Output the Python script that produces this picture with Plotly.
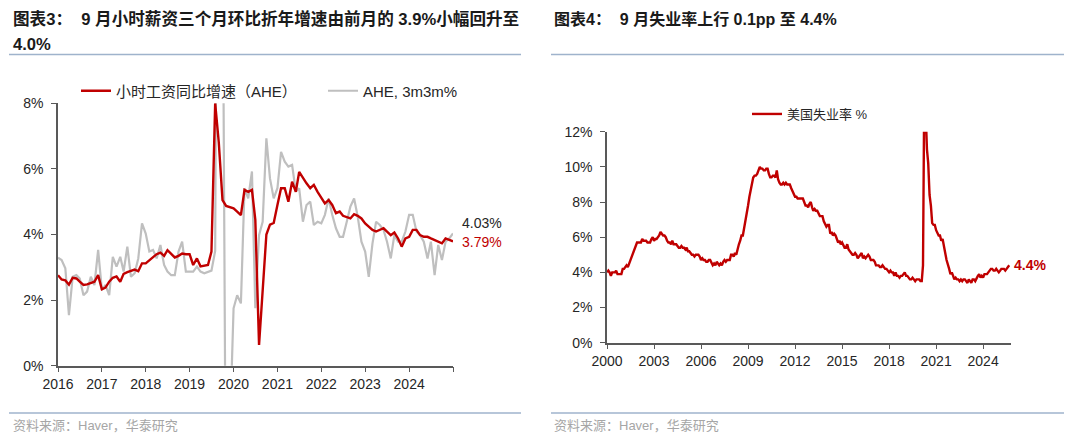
import plotly.graph_objects as go
import pandas as pd

# ---------------- data: left chart (AHE) ----------------
ahe_yoy = [
    2.76, 2.63, 2.60, 2.47, 2.68, 2.66, 2.56, 2.46, 2.48, 2.51,
    2.56, 2.76, 2.33, 2.38, 2.56, 2.68, 2.72, 2.56, 2.80, 2.85,
    2.88, 2.93, 2.88, 3.12, 3.12, 3.22, 3.30, 3.40, 3.45, 3.35,
    3.52, 3.40, 3.30, 3.35, 3.42, 3.40, 3.40, 3.07, 3.27, 3.03,
    3.05, 3.07, 3.48, 8.00, 6.80, 5.05, 4.87, 4.83, 4.80, 4.70,
    4.59, 5.36, 5.30, 5.36, 4.45, 0.63, 2.30, 4.00, 4.30, 4.35,
    4.90, 5.41, 5.41, 5.00, 5.61, 5.30, 5.91, 5.71, 5.56, 5.41,
    5.51, 5.30, 5.10, 4.95, 5.05, 4.90, 4.65, 4.70, 4.57, 4.54,
    4.49, 4.62, 4.57, 4.49, 4.34, 4.24, 4.14, 4.09, 4.14, 4.19,
    4.09, 3.98, 4.06, 3.88, 3.63, 3.88, 3.93, 4.14, 4.14, 3.98,
    3.93, 3.93, 3.88, 3.83, 3.78, 3.73, 3.88, 3.83, 3.79,
]
ahe_3m3m = [
    3.29, 3.22, 2.97, 1.54, 2.71, 2.76, 2.66, 2.15, 2.26, 2.71,
    2.46, 3.53, 2.31, 2.46, 2.15, 3.32, 3.02, 3.32, 2.87, 3.63,
    2.71, 2.82, 3.27, 4.34, 4.03, 3.48, 3.53, 3.27, 3.68, 3.07,
    2.87, 2.76, 2.76, 3.48, 3.78, 2.87, 2.87, 2.87, 3.02, 2.87,
    2.82, 2.85, 2.90, 3.50, 28.0, 14.0, -6.0, -2.0, 1.75, 2.15,
    1.90, 5.41, 5.10, 5.92, 1.75, 3.98, 4.39, 6.93, 5.71, 5.10,
    5.41, 6.52, 6.22, 6.07, 6.12, 5.31, 5.41, 4.39, 4.90, 5.00,
    4.29, 4.39, 4.34, 4.60, 5.10, 4.60, 4.19, 3.93, 3.93, 4.39,
    4.85, 5.10, 4.55, 3.78, 3.48, 2.71, 3.73, 4.39, 4.29, 4.14,
    3.78, 3.27, 3.98, 3.78, 3.78, 4.09, 4.60, 4.60, 4.09, 3.98,
    3.78, 3.27, 3.78, 2.76, 3.68, 3.22, 3.78, 3.88, 4.03,
]
ahe_dates = pd.date_range("2016-09-01", periods=len(ahe_yoy), freq="MS")
ahe_tick_labels = ["2016", "2017", "2018", "2019", "2020", "2021", "2022", "2023", "2024", ""]
ahe_tick_dates = pd.date_range("2016-09-01", periods=len(ahe_tick_labels), freq="12MS")
ahe_y_ticks = [0, 2, 4, 6, 8]

# ---------------- data: right chart (US unemployment rate) ----------------
unrate = [
    4.0, 4.1, 4.0, 3.8, 4.0, 4.0, 4.0, 4.1, 3.9, 3.9, 3.9, 3.9,   # 2000
    4.2, 4.2, 4.3, 4.4, 4.3, 4.5, 4.6, 4.9, 5.0, 5.3, 5.5, 5.7,   # 2001
    5.7, 5.7, 5.7, 5.9, 5.8, 5.8, 5.8, 5.7, 5.7, 5.7, 5.9, 6.0,   # 2002
    5.8, 5.9, 5.9, 6.0, 6.1, 6.3, 6.2, 6.1, 6.1, 6.0, 5.8, 5.7,   # 2003
    5.7, 5.6, 5.8, 5.6, 5.6, 5.6, 5.5, 5.4, 5.4, 5.5, 5.4, 5.4,   # 2004
    5.3, 5.4, 5.2, 5.2, 5.1, 5.0, 5.0, 4.9, 5.0, 5.0, 5.0, 4.9,   # 2005
    4.7, 4.8, 4.7, 4.7, 4.6, 4.6, 4.7, 4.7, 4.5, 4.4, 4.5, 4.4,   # 2006
    4.6, 4.5, 4.4, 4.5, 4.4, 4.6, 4.7, 4.6, 4.7, 4.7, 4.7, 5.0,   # 2007
    5.0, 4.9, 5.1, 5.0, 5.4, 5.6, 5.8, 6.1, 6.1, 6.5, 6.8, 7.3,   # 2008
    7.8, 8.3, 8.7, 9.0, 9.4, 9.5, 9.5, 9.6, 9.8, 10.0, 9.9, 9.9,  # 2009
    9.8, 9.8, 9.9, 9.9, 9.6, 9.4, 9.4, 9.5, 9.5, 9.4, 9.8, 9.3,   # 2010
    9.1, 9.0, 9.0, 9.1, 9.0, 9.1, 9.0, 9.0, 9.0, 8.8, 8.6, 8.5,   # 2011
    8.3, 8.3, 8.2, 8.2, 8.2, 8.2, 8.2, 8.0, 7.8, 7.8, 7.7, 7.9,   # 2012
    8.0, 7.7, 7.5, 7.6, 7.5, 7.5, 7.3, 7.2, 7.2, 7.2, 6.9, 6.7,   # 2013
    6.6, 6.7, 6.7, 6.2, 6.3, 6.1, 6.2, 6.1, 5.9, 5.7, 5.8, 5.6,   # 2014
    5.7, 5.5, 5.4, 5.4, 5.6, 5.3, 5.2, 5.1, 5.0, 5.0, 5.1, 5.0,   # 2015
    4.8, 4.9, 5.0, 5.1, 4.8, 4.9, 4.8, 4.9, 5.0, 4.9, 4.7, 4.7,   # 2016
    4.7, 4.6, 4.4, 4.4, 4.4, 4.3, 4.3, 4.4, 4.3, 4.2, 4.2, 4.1,   # 2017
    4.0, 4.1, 4.0, 4.0, 3.8, 4.0, 3.8, 3.8, 3.7, 3.8, 3.8, 3.9,   # 2018
    4.0, 3.8, 3.8, 3.7, 3.6, 3.6, 3.7, 3.6, 3.5, 3.6, 3.6, 3.6,   # 2019
    3.5, 3.5, 4.4, 14.8, 13.2, 11.0, 10.2, 8.4, 7.8, 6.8, 6.7, 6.7,  # 2020
    6.4, 6.2, 6.1, 6.1, 5.8, 5.9, 5.4, 5.1, 4.7, 4.5, 4.2, 3.9,   # 2021
    4.0, 3.8, 3.6, 3.7, 3.6, 3.6, 3.5, 3.6, 3.5, 3.6, 3.6, 3.5,   # 2022
    3.4, 3.6, 3.5, 3.4, 3.6, 3.6, 3.5, 3.7, 3.8, 3.9, 3.7, 3.8,   # 2023
    3.7, 3.9, 3.9, 3.9, 4.0, 4.1, 4.2, 4.2, 4.1, 4.1, 4.2, 4.1,   # 2024
    4.0, 4.1, 4.2, 4.2, 4.2, 4.1, 4.2, 4.3, 4.4,                  # 2025
]
unrate_dates = pd.date_range("2000-01-01", periods=len(unrate), freq="MS")
unrate_tick_labels = ["2000", "2003", "2006", "2009", "2012", "2015", "2018", "2021", "2024"]
unrate_tick_dates = pd.to_datetime([f"{y}-01-01" for y in unrate_tick_labels])
unrate_y_ticks = [0, 2, 4, 6, 8, 10, 12]

# ---------------- styling ----------------
RED = "#c00000"
GRAY = "#bfbfbf"
AXIS = "#595959"
TXT = "#262626"
SEP = "#9fb3cc"
LAT = "Liberation Sans, Arial, Noto Sans CJK SC, sans-serif"
CJK = "Liberation Sans, Noto Sans CJK SC, sans-serif"
# the page body has an 8px margin, so the figure is offset by 8px
OFF = 8
W, H = 1080 - OFF, 440 - OFF


def px_x(x):
    return (x - OFF) / W


def px_y(y):
    return 1 - (y - OFF) / H


fig = go.Figure()

fig.add_trace(go.Scatter(
    x=ahe_dates, y=ahe_3m3m, mode="lines", name="AHE, 3m3m%",
    line=dict(color=GRAY, width=2.2), xaxis="x", yaxis="y", legend="legend",
    legendrank=2,
))
fig.add_trace(go.Scatter(
    x=ahe_dates, y=ahe_yoy, mode="lines", name="小时工资同比增速（AHE）",
    line=dict(color=RED, width=2.4), xaxis="x", yaxis="y", legend="legend",
    legendrank=1,
))
fig.add_trace(go.Scatter(
    x=unrate_dates, y=unrate, mode="lines", name="美国失业率 %",
    line=dict(color=RED, width=2.4), xaxis="x2", yaxis="y2", legend="legend2",
))

axis_common = dict(
    showgrid=False, zeroline=False, showline=True, linecolor=AXIS, linewidth=1.5,
    ticks="outside", tickcolor=AXIS, tickwidth=1.3, ticklen=5, automargin=False,
    tickfont=dict(family=LAT, size=14, color=TXT),
)

fig.update_layout(
    width=W, height=H,
    margin=dict(l=0, r=0, t=0, b=0, autoexpand=False),
    paper_bgcolor="white", plot_bgcolor="white",
    showlegend=True,
    xaxis=dict(
        domain=[px_x(58), px_x(453)],
        range=[ahe_dates[0], ahe_dates[-1]],
        tickmode="array", tickvals=ahe_tick_dates, ticktext=ahe_tick_labels,
        anchor="y", **axis_common,
    ),
    yaxis=dict(
        domain=[px_y(365.7), px_y(103.3)],
        range=[0, 8], tickmode="array", tickvals=ahe_y_ticks,
        ticktext=[f"{v}%" for v in ahe_y_ticks], ticklabelstandoff=5,
        anchor="x", **axis_common,
    ),
    xaxis2=dict(
        domain=[px_x(607), px_x(1011)],
        range=[unrate_dates[0], pd.Timestamp("2025-10-12")],
        tickmode="array", tickvals=unrate_tick_dates, ticktext=unrate_tick_labels,
        anchor="y2", **axis_common,
    ),
    yaxis2=dict(
        domain=[px_y(342.7), px_y(131.7)],
        range=[0, 12], tickmode="array", tickvals=unrate_y_ticks,
        ticktext=[f"{v}%" for v in unrate_y_ticks], ticklabelstandoff=5,
        anchor="x2", **axis_common,
    ),
    legend=dict(
        x=px_x(76), xanchor="left", y=px_y(91), yanchor="middle",
        orientation="h", font=dict(family=CJK, size=15, color=TXT),
        bgcolor="rgba(0,0,0,0)", entrywidth=202, entrywidthmode="pixels",
        itemclick=False, itemdoubleclick=False,
    ),
    legend2=dict(
        x=px_x(747), xanchor="left", y=px_y(114), yanchor="middle",
        orientation="h", font=dict(family=CJK, size=13, color=TXT),
        bgcolor="rgba(0,0,0,0)",
    ),
)

# end-of-line labels
fig.add_annotation(x=ahe_dates[-1], y=ahe_3m3m[-1], xref="x", yref="y",
                   text=f"{ahe_3m3m[-1]:.2f}%", showarrow=False, xanchor="left",
                   xshift=7, yshift=11, font=dict(family=LAT, size=14, color=TXT))
fig.add_annotation(x=ahe_dates[-1], y=ahe_yoy[-1], xref="x", yref="y",
                   text=f"{ahe_yoy[-1]:.2f}%", showarrow=False, xanchor="left",
                   xshift=7, yshift=-1, font=dict(family=LAT, size=14, color=RED))
fig.add_annotation(x=unrate_dates[-1], y=unrate[-1], xref="x2", yref="y2",
                   text=f"<b>{unrate[-1]:.1f}%</b>", showarrow=False, xanchor="left",
                   xshift=3, font=dict(family=LAT, size=14, color=RED))

# titles
title_font = dict(family=CJK, size=16.6, color="#1a1a1a")
fig.add_annotation(x=px_x(11), y=px_y(19), xref="paper", yref="paper", showarrow=False,
                   xanchor="left", yanchor="middle", font=title_font,
                   text="<b>图表3：  9 月小时薪资三个月环比折年增速由前月的 3.9%小幅回升至</b>")
fig.add_annotation(x=px_x(11), y=px_y(44), xref="paper", yref="paper", showarrow=False,
                   xanchor="left", yanchor="middle", font=title_font,
                   text="<b>4.0%</b>")
fig.add_annotation(x=px_x(552), y=px_y(19), xref="paper", yref="paper", showarrow=False,
                   xanchor="left", yanchor="middle", font=dict(family=CJK, size=16.0, color="#1a1a1a"),
                   text="<b>图表4：  9 月失业率上行 0.1pp 至 4.4%</b>")

# sources
src_font = dict(family=CJK, size=13, color="#a6a6a6")
fig.add_annotation(x=px_x(11), y=px_y(425), xref="paper", yref="paper", showarrow=False,
                   xanchor="left", yanchor="middle", font=src_font,
                   text="资料来源：Haver，华泰研究")
fig.add_annotation(x=px_x(552), y=px_y(425), xref="paper", yref="paper", showarrow=False,
                   xanchor="left", yanchor="middle", font=src_font,
                   text="资料来源：Haver，华泰研究")

# separator lines
for x0, x1 in [(9, 521), (551, 1064)]:
    for yy in (54.5, 413):
        fig.add_shape(type="line", xref="paper", yref="paper",
                      x0=px_x(x0), x1=px_x(x1), y0=px_y(yy), y1=px_y(yy),
                      line=dict(color=SEP, width=1.5))

fig.write_html("out.html")
